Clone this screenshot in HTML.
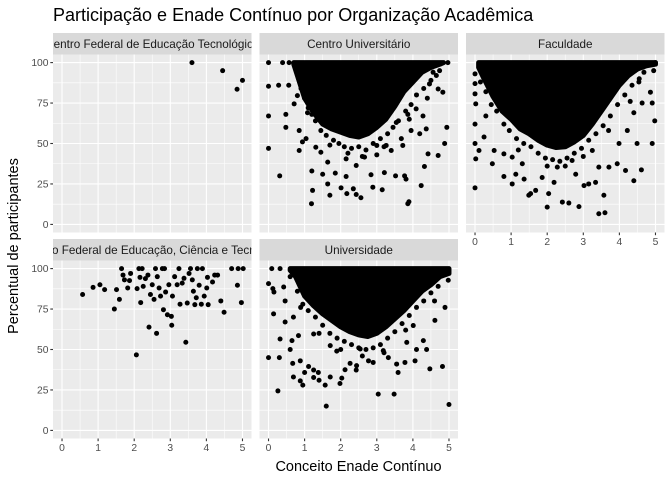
<!DOCTYPE html>
<html><head><meta charset="utf-8">
<style>
html,body{margin:0;padding:0;background:#fff;}
svg{display:block;font-family:"Liberation Sans","DejaVu Sans",sans-serif;}
</style></head>
<body>
<svg id="chart" width="672" height="480" viewBox="0 0 672 480" xmlns="http://www.w3.org/2000/svg">
<rect width="672" height="480" fill="#fff"/>
<text x="53" y="21" font-size="18" fill="#000">Participação e Enade Contínuo por Organização Acadêmica</text>
<text x="358.5" y="471" font-size="14.5" text-anchor="middle" fill="#000">Conceito Enade Contínuo</text>
<text transform="translate(18,246) rotate(-90)" font-size="14.5" text-anchor="middle" fill="#000">Percentual de participantes</text>
<g id="panels"></g>
</svg>
<script>
// ---- data ----
const facetNames = ["Centro Federal de Educação Tecnológica","Centro Universitário","Faculdade","Instituto Federal de Educação, Ciência e Tecnologia","Universidade"];
const xTicks = [0,1,2,3,4,5];
const yTicks = [0,25,50,75,100];
const xTickLabels = ["0","1","2","3","4","5"];
const yTickLabels = ["0","25","50","75","100"];

const cefetX = [3.6,4.45,4.85,5.0];
const cefetY = [100,95,83.5,89];

const centroX = [0,0,0,0,0.28,0.31,0.56,0.48,0.48,0.71,0.85,0.85,1.04,1.2,1.22,1.19,1.45,1.5,1.64,1.7,1.64,1.85,2.01,2.15,2.17,2.35,2.43,2.56,2.15,2.43,2.66,2.84,2.89,3.15,3.21,3.0,3.0,3.26,3.4,3.52,3.72,3.77,3.81,3.86,3.89,3.68,3.95,4.19,4.23,4.32,4.42,4.37,4.7,4.88,4.94,4.83,4.97,4.74,4.09,3.86,4.46,4.56,4.7,4.28,3.54,0.94,1.31,1.08,0.8,0.76,0.39,0.57,
  0.9,1.0,1.1,1.2,1.3,1.45,1.6,1.8,1.95,2.1,2.3,2.5,2.7,2.9,3.1,3.3,3.45,3.6,3.8,3.95,4.1,4.3,4.5,4.65,2.2,2.6,3.2,1.7,3.9,4.4];
const centroY = [100,85.4,67,47,86,30,86,68,60,74.5,58,45.7,53,33,21,12.8,44.6,31,25,18,38.5,31.7,22.6,29.6,19,22,18.5,16.5,40.5,36.4,41.6,30.7,23,21.4,32,43,48.8,48.8,45.7,30,48.8,30,28,12.8,14,53,58,56,24,35.8,43.6,59,42.6,50,60,81.7,100,95,71.4,68,86.8,94,83.7,67,63,51,47.7,69,79.6,99,100,100,
  84,78,72,68,64,58,55,52,50,48,47,48,46,50,53,56,60,64,70,74,80,84,89,92,44,42,48,49,65,78];
const centroCoreX = [0.7,0.8,1.0,1.25,1.5,1.75,2.0,2.25,2.5,2.75,3.0,3.25,3.5,3.75,4.0,4.25,4.5,4.75,4.85];
const centroCoreY = [99,92,78,69,62,59,57,55,54,56,60,65,73,82,88,94,97,99,100];

const facX = [0,0,0,0.02,0,0,0.02,0,0.11,0.25,0.3,0.48,0.53,0.8,0.8,1.03,1.03,1.13,1.31,1.36,1.49,1.54,1.68,1.86,2.0,2.04,2.19,2.42,2.6,2.88,2.28,2.79,3.02,3.15,3.34,3.57,3.43,3.6,3.43,3.71,3.94,4.17,4.4,4.61,4.49,4.91,4.98,4.86,4.63,4.91,4.4,4.22,3.99,4.54,4.68,4.95,5.0,3.25,2.69,
  0.15,0.3,0.45,0.6,0.8,0.95,1.15,1.35,1.55,1.75,1.95,2.15,2.35,2.55,2.75,2.95,3.15,3.35,3.55,3.75,3.95,4.15,4.35,4.55,2.0,2.5,3.0,1.2,3.7,4.3];
const facY = [93,87,80.7,74.5,62,50,40.5,22.6,45.7,54,67,37.5,45.7,43.6,29.6,41.6,25,31,37.5,28,18,19,21,29,10.7,19,26,13.8,13.2,11,35.4,31,24,25,26,18,6.6,7.2,35.4,35.4,37.5,33.3,27,33.7,50,50,64,81.7,75,75,69,58,50,88,94,95,100,45.7,39.5,
  88,82,74,70,62,58,53,50,48,44,41,40,39,41,44,47,52,56,61,67,74,80,86,90,36,36,42,46,58,76];
const facCoreX = [0.1,0.25,0.5,0.75,1.0,1.25,1.5,1.75,2.0,2.25,2.5,2.75,3.0,3.25,3.5,3.75,4.0,4.25,4.5,4.75,5.0];
const facCoreY = [97,90,79,70,65,59,56,52,49,47.5,48,51,55,62,70,78,86,92,96,98,99];

const ifX = [0.57,0.86,1.05,1.18,1.45,1.51,1.59,1.65,1.69,1.73,1.82,1.87,1.9,2.08,2.06,2.13,2.16,2.18,2.22,2.25,2.31,2.38,2.41,2.45,2.5,2.55,2.59,2.62,2.64,2.69,2.73,2.78,2.81,2.84,2.87,2.92,2.96,3.03,3.04,3.06,3.12,3.19,3.24,3.27,3.33,3.38,3.43,3.47,3.52,3.56,3.61,3.64,3.68,3.72,3.75,3.8,3.86,3.89,3.94,4.01,4.03,4.05,4.17,4.23,4.31,4.4,4.49,4.7,4.86,4.88,4.97,5.02];
const ifY = [84,88.4,90,87,75,87,81,100,96,93,88,92.6,97,87.6,46.7,100,94.6,79,100,89,93.8,96,63.8,84,90,81,100,60,95,88,83,100,74.6,100,85.5,71.5,90,70.5,65,83,95,90,100,78,91,94,54.5,78.7,97,100,93,86,77.7,82,100,89.7,78,100,83,88,94.6,77.7,91.7,96,96,80,73,100,89.7,100,79,100];

const uniX = [0,0.12,0.15,0.14,0,0.3,0.32,0.26,0.42,0.46,0.46,0.6,0.65,0.67,0.69,0.83,0.88,0.88,0.95,1.0,1.11,1.25,1.25,1.38,1.4,1.57,1.6,1.71,1.98,2.03,2.12,2.26,2.43,2.44,2.77,2.9,3.04,3.48,3.32,3.55,3.59,3.78,4.06,4.1,4.38,4.47,4.82,5.0,4.01,4.29,4.61,4.89,4.98,1.25,1.71,1.89,2.54,3.18,3.83,0.09,0.32,0.6,0.89,0.69,
  0.8,0.95,1.1,1.3,1.5,1.7,1.9,2.1,2.3,2.5,2.7,2.9,3.1,3.3,3.5,3.7,3.9,4.1,4.3,4.5,4.7,2.0,2.6,3.2,3.8,1.4,4.6];
const uniY = [90.7,87.6,85.5,72,45,45,56.5,24.4,88.6,80,67,50,55.5,41.4,33,58.6,43,30.6,28,35.8,39.5,37.3,32.7,35.8,31,28,15,33,29,32.3,37.5,41.4,37.3,40,43,42,22.4,22.4,45,41,35.8,42,43,50,50,38,39.5,16,64.8,55.5,68,76,92.8,59.6,52.4,49,50.3,49.3,54.4,100,100,95,76,70,
  86,78,74,70,65,60,57,55,53,51,50,51,53,57,61,66,71,76,80,85,89,50,46,48,62,60,80];
const uniCoreX = [0.6,0.75,1.0,1.25,1.5,1.75,2.0,2.25,2.5,2.75,3.0,3.25,3.5,3.75,4.0,4.25,4.5,4.75,5.0];
const uniCoreY = [99,95,83,77,72,68,64,61,59,58,60,64,69,74,80,86,90,95,97];

const facetPoints = [[cefetX,cefetY],[centroX,centroY],[facX,facY],[ifX,ifY],[uniX,uniY]];
const facetCores = [null,[centroCoreX,centroCoreY],[facCoreX,facCoreY],null,[uniCoreX,uniCoreY]];

// ---- layout ----
const NS = "http://www.w3.org/2000/svg";
const colLeft = [53, 259.5, 466];
const panelW = 198.5;
const rowStripTop = [33, 239];
const stripH = 21.5;
const panelH = 178;
const xMin = -0.25, xMax = 5.25, yMin = -5, yMax = 105;
const R = 2.5;

function mk(tag, attrs, parent){
  const e = document.createElementNS(NS, tag);
  for (const k in attrs) e.setAttribute(k, attrs[k]);
  parent.appendChild(e);
  return e;
}
const root = document.getElementById('panels');

facetNames.forEach((name, i) => {
  const col = i % 3, row = Math.floor(i / 3);
  const L = colLeft[col], T = rowStripTop[row] + stripH;
  const sx = v => L + (v - xMin) / (xMax - xMin) * panelW;
  const sy = v => T + panelH - (v - yMin) / (yMax - yMin) * panelH;

  const g = mk('g', {}, root);
  
  

  const cp = mk('clipPath', {id: 'clip' + i}, g);
  mk('rect', {x: L, y: T, width: panelW, height: panelH}, cp);
  const cps = mk('clipPath', {id: 'clips' + i}, g);
  mk('rect', {x: L, y: T - stripH, width: panelW, height: stripH}, cps);

  const strip = mk('rect', {x: L, y: T - stripH, width: panelW, height: stripH, fill: '#d9d9d9'}, g);
  
  
  const st = mk('text', {x: L + panelW / 2, y: T - 6.5, 'font-size': 11.7, 'text-anchor': 'middle', fill: '#1a1a1a', 'clip-path': 'url(#clips' + i + ')'}, g);
  st.textContent = name;
  
  

  const bg = mk('rect', {x: L, y: T, width: panelW, height: panelH, fill: '#ebebeb'}, g);
  
  

  const grid = mk('g', {}, g);
  
  
  for (let k = 0; k < yTicks.length - 1; k++) {
    const m = (yTicks[k] + yTicks[k + 1]) / 2;
    mk('line', {x1: L, x2: L + panelW, y1: sy(m), y2: sy(m), stroke: '#fff', 'stroke-width': 0.55}, grid);
  }
  for (let k = 0; k < xTicks.length - 1; k++) {
    const m = (xTicks[k] + xTicks[k + 1]) / 2;
    mk('line', {y1: T, y2: T + panelH, x1: sx(m), x2: sx(m), stroke: '#fff', 'stroke-width': 0.55}, grid);
  }
  yTicks.forEach(v => mk('line', {x1: L, x2: L + panelW, y1: sy(v), y2: sy(v), stroke: '#fff', 'stroke-width': 1.1}, grid));
  xTicks.forEach(v => mk('line', {y1: T, y2: T + panelH, x1: sx(v), x2: sx(v), stroke: '#fff', 'stroke-width': 1.1}, grid));

  const core = facetCores[i];
  const marks = mk('g', {'clip-path': 'url(#clip' + i + ')'}, g);
  
  
  if (core) {
    const cx = core[0], cy = core[1];
    let pts = [];
    pts.push(sx(cx[0]) + ',' + sy(100));
    pts.push(sx(cx[cx.length - 1]) + ',' + sy(100));
    for (let k = cx.length - 1; k >= 0; k--) pts.push(sx(cx[k]) + ',' + sy(cy[k]));
    const poly = mk('polygon', {points: pts.join(' '), fill: '#000', stroke: '#000', 'stroke-width': R * 2, 'stroke-linejoin': 'round'}, marks);
    
    
  }
  const P = facetPoints[i];
  for (let k = 0; k < P[0].length; k++) {
    const c = mk('circle', {cx: sx(P[0][k]), cy: sy(P[1][k]), r: R, fill: '#000'}, marks);
    
    
  }

  if (col === 0) {
    const ya = mk('g', {}, g);
    
    
    yTicks.forEach((v, k) => {
      mk('line', {x1: L - 2.7, x2: L, y1: sy(v), y2: sy(v), stroke: '#333', 'stroke-width': 1.1}, ya);
      const t = mk('text', {x: L - 4.5, y: sy(v) + 3.6, 'font-size': 10.3, 'text-anchor': 'end', fill: '#4d4d4d'}, ya);
      t.textContent = yTickLabels[k];
      
      
    });
  }
  const showX = (row === 1) || (col === 2);
  if (showX) {
    const xa = mk('g', {}, g);
    
    
    xTicks.forEach((v, k) => {
      mk('line', {x1: sx(v), x2: sx(v), y1: T + panelH, y2: T + panelH + 2.7, stroke: '#333', 'stroke-width': 1.1}, xa);
      const t = mk('text', {x: sx(v), y: T + panelH + 12.5, 'font-size': 10.3, 'text-anchor': 'middle', fill: '#4d4d4d'}, xa);
      t.textContent = xTickLabels[k];
      
      
    });
  }
});
</script>
</body></html>
